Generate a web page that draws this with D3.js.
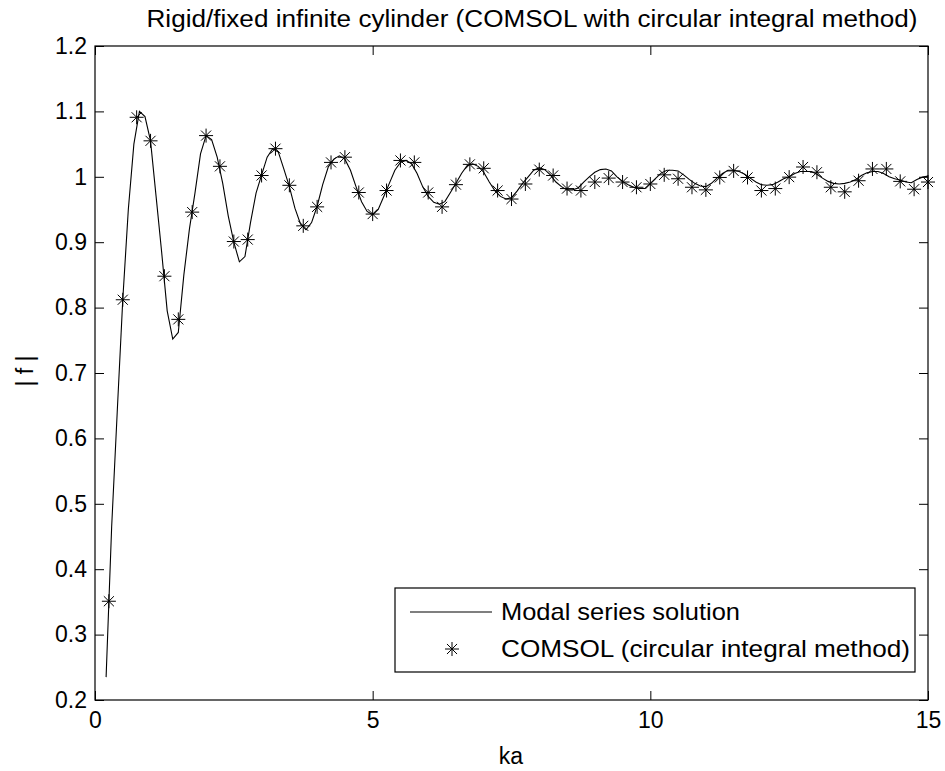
<!DOCTYPE html>
<html><head><meta charset="utf-8">
<script src="https://cdn.jsdelivr.net/npm/d3@7/dist/d3.min.js"></script>
<style>
html,body{margin:0;padding:0;background:#fff;}
svg{display:block;font-family:"Liberation Sans",Arial,sans-serif;}
</style></head><body>
<svg id="chart" width="945" height="771"></svg>
<script>
// Modal series solution (line)
const lineKa = [0.2,0.3,0.4,0.5,0.6,0.7,0.8,0.9,1.0,1.1,1.2,1.3,1.4,1.5,1.6,1.7,1.8,1.9,2.0,2.1,2.2,2.3,2.4,2.5,2.6,2.7,2.8,2.9,3.0,3.1,3.2,3.3,3.4,3.5,3.6,3.7,3.8,3.9,4.0,4.1,4.2,4.3,4.4,4.5,4.6,4.7,4.8,4.9,5.0,5.1,5.2,5.3,5.4,5.5,5.6,5.7,5.8,5.9,6.0,6.1,6.2,6.3,6.4,6.5,6.6,6.7,6.8,6.9,7.0,7.1,7.2,7.3,7.4,7.5,7.6,7.7,7.8,7.9,8.0,8.1,8.2,8.3,8.4,8.5,8.6,8.7,8.8,8.9,9.0,9.1,9.2,9.3,9.4,9.5,9.6,9.7,9.8,9.9,10.0,10.1,10.2,10.3,10.4,10.5,10.6,10.7,10.8,10.9,11.0,11.1,11.2,11.3,11.4,11.5,11.6,11.7,11.8,11.9,12.0,12.1,12.2,12.3,12.4,12.5,12.6,12.7,12.8,12.9,13.0,13.1,13.2,13.3,13.4,13.5,13.6,13.7,13.8,13.9,14.0,14.1,14.2,14.3,14.4,14.5,14.6,14.7,14.8,14.9,15.0];
const lineF = [0.235,0.465,0.64,0.812,0.95,1.05,1.10,1.092,1.055,0.97,0.885,0.795,0.752,0.762,0.85,0.92,0.975,1.035,1.063,1.057,1.03,0.99,0.94,0.90,0.870,0.878,0.93,0.975,1.003,1.03,1.043,1.038,1.012,0.985,0.952,0.928,0.919,0.93,0.955,0.988,1.015,1.027,1.032,1.027,1.01,0.985,0.962,0.947,0.942,0.95,0.97,0.99,1.01,1.022,1.025,1.02,1.005,0.985,0.97,0.961,0.958,0.962,0.976,0.99,1.005,1.017,1.02,1.016,1.007,0.992,0.979,0.97,0.966,0.968,0.978,0.99,1.0,1.01,1.014,1.011,1.003,0.992,0.985,0.98,0.98,0.983,0.992,1.0,1.007,1.011,1.012,1.009,1.0,0.993,0.988,0.984,0.982,0.982,0.99,0.998,1.006,1.01,1.01,1.009,1.003,0.996,0.99,0.986,0.985,0.99,0.998,1.005,1.01,1.01,1.008,1.004,0.998,0.992,0.988,0.987,0.988,0.992,0.997,1.0,1.005,1.008,1.008,1.008,1.004,0.998,0.993,0.99,0.989,0.99,0.992,0.996,1.002,1.006,1.008,1.008,1.005,1.0,0.997,0.995,0.992,0.991,0.996,0.9995,1.001];
// COMSOL (circular integral method) markers
const comsolKa = [0.25,0.5,0.75,1.0,1.25,1.5,1.75,2.0,2.25,2.5,2.75,3.0,3.25,3.5,3.75,4.0,4.25,4.5,4.75,5.0,5.25,5.5,5.75,6.0,6.25,6.5,6.75,7.0,7.25,7.5,7.75,8.0,8.25,8.5,8.75,9.0,9.25,9.5,9.75,10.0,10.25,10.5,10.75,11.0,11.25,11.5,11.75,12.0,12.25,12.5,12.75,13.0,13.25,13.5,13.75,14.0,14.25,14.5,14.75,15.0];
const comsolF = [0.351,0.812,1.091,1.055,0.848,0.782,0.946,1.063,1.016,0.901,0.904,1.002,1.043,0.987,0.925,0.954,1.022,1.030,0.976,0.943,0.979,1.025,1.022,0.976,0.954,0.988,1.019,1.013,0.979,0.966,0.989,1.011,1.002,0.982,0.979,0.992,0.998,0.992,0.984,0.989,1.003,0.997,0.984,0.980,0.999,1.009,0.999,0.979,0.982,0.9995,1.015,1.007,0.984,0.977,0.994,1.012,1.012,0.993,0.981,0.992];
const xTicks = [0,5,10,15];
const yTicks = [0.2,0.3,0.4,0.5,0.6,0.7,0.8,0.9,1.0,1.1,1.2];
const yTickLabels = ["0.2","0.3","0.4","0.5","0.6","0.7","0.8","0.9","1","1.1","1.2"];
const titleText = "Rigid/fixed infinite cylinder (COMSOL with circular integral method)";
const xLabel = "ka";
const yLabel = "| f |";
const legendLabels = ["Modal series solution","COMSOL (circular integral method)"];

const svg = d3.select("#chart");
const L = 95, R = 928, T = 46, B = 700;
const x = d3.scaleLinear().domain([0,15]).range([L,R]);
const y = d3.scaleLinear().domain([0.2,1.2]).range([B,T]);
const tick = 9;

svg.append("rect").attr("x",0).attr("y",0).attr("width",945).attr("height",771).attr("fill","#fff");

const fs = "23px";
const gx = svg.append("g").attr("transform",`translate(0,${B})`)
  .call(d3.axisBottom(x).tickValues(xTicks).tickFormat(d3.format("d")).tickSizeInner(-tick).tickSizeOuter(0).tickPadding(12));
const gxt = svg.append("g").attr("transform",`translate(0,${T})`)
  .call(d3.axisTop(x).tickValues(xTicks).tickFormat("").tickSizeInner(-tick).tickSizeOuter(0));
const gy = svg.append("g").attr("transform",`translate(${L},0)`)
  .call(d3.axisLeft(y).tickValues(yTicks).tickFormat((d,i)=>yTickLabels[i]).tickSizeInner(-tick).tickSizeOuter(0).tickPadding(8));
const gyr = svg.append("g").attr("transform",`translate(${R},0)`)
  .call(d3.axisRight(y).tickValues(yTicks).tickFormat("").tickSizeInner(-tick).tickSizeOuter(0));
[gx,gxt,gy,gyr].forEach(g=>{
  g.select(".domain").remove();
  g.selectAll("line").attr("stroke","#000").attr("stroke-width",1);
  g.selectAll("text").attr("fill","#000").style("font-size",fs).style("font-family","'Liberation Sans',Arial,sans-serif");
});
svg.append("rect").attr("x",L).attr("y",T).attr("width",R-L).attr("height",B-T)
  .attr("fill","none").attr("stroke","#000").attr("stroke-width",1.2);

// line
const lineData = lineKa.map((k,i)=>[k,lineF[i]]);
svg.append("path").datum(lineData)
  .attr("d",d3.line().x(d=>x(d[0])).y(d=>y(d[1])))
  .attr("fill","none").attr("stroke","#000").attr("stroke-width",1.1);

// asterisk markers
function star(g,cx,cy,r){
  const d = r*0.72;
  const p = `M${cx-r},${cy}L${cx+r},${cy}M${cx},${cy-r}L${cx},${cy+r}M${cx-d},${cy-d}L${cx+d},${cy+d}M${cx-d},${cy+d}L${cx+d},${cy-d}`;
  g.append("path").attr("d",p).attr("stroke","#000").attr("stroke-width",1).attr("fill","none");
}
const mg = svg.append("g");
comsolKa.forEach((k,i)=>star(mg,x(k),y(comsolF[i]),7));

// title and labels
svg.append("text").attr("x",532).attr("y",27).attr("text-anchor","middle")
  .style("font-size","23px").attr("textLength",771).attr("lengthAdjust","spacingAndGlyphs").text(titleText);
svg.append("text").attr("x",511).attr("y",764).attr("text-anchor","middle").style("font-size","23px").text(xLabel);
svg.append("text").attr("transform","translate(33,371) rotate(-90)").attr("text-anchor","middle").style("font-size","23px").text(yLabel);

// legend
const lg = svg.append("g");
lg.append("rect").attr("x",395).attr("y",588).attr("width",520).attr("height",84)
  .attr("fill","#fff").attr("stroke","#000").attr("stroke-width",1.2);
lg.append("line").attr("x1",410).attr("x2",492).attr("y1",612).attr("y2",612).attr("stroke","#000").attr("stroke-width",1.1);
star(lg,452,649,7);
lg.append("text").attr("x",501).attr("y",620).style("font-size","24px").attr("textLength",239).attr("lengthAdjust","spacingAndGlyphs").text(legendLabels[0]);
lg.append("text").attr("x",501).attr("y",657).style("font-size","24px").attr("textLength",409).attr("lengthAdjust","spacingAndGlyphs").text(legendLabels[1]);
</script></body></html>
